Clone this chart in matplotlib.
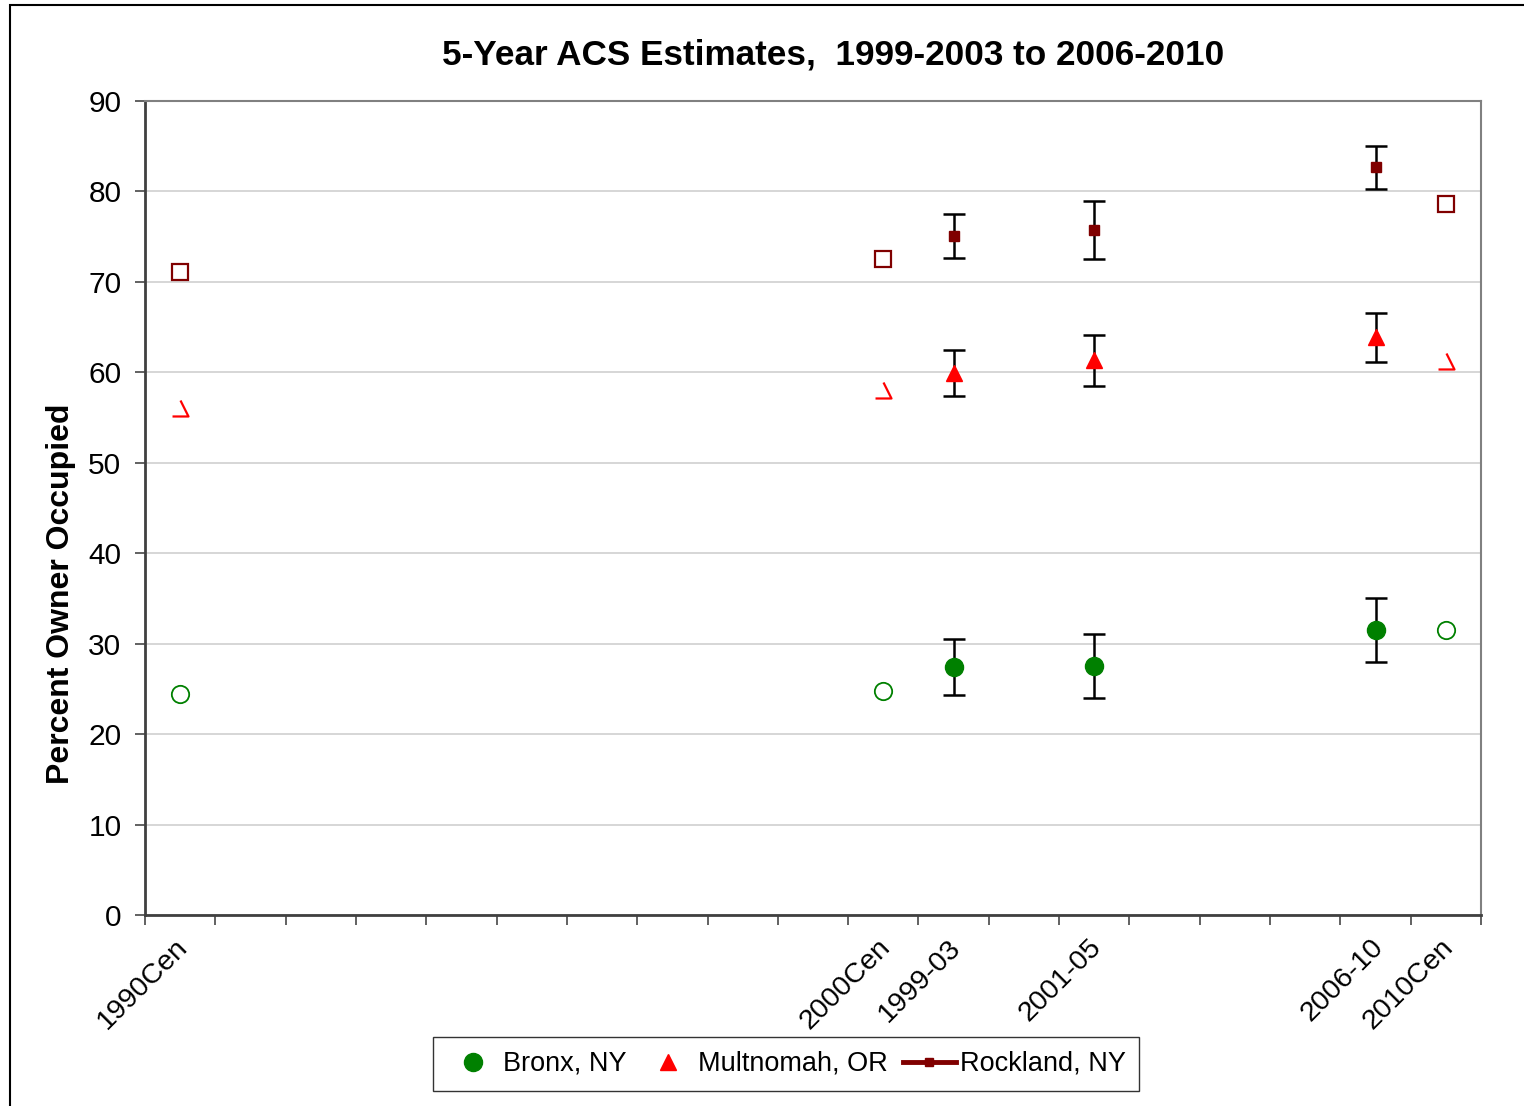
import matplotlib.pyplot as plt
from matplotlib.lines import Line2D
from matplotlib.path import Path
from matplotlib.patches import Rectangle

plt.rcParams['font.family'] = ['Liberation Sans', 'DejaVu Sans']

# 19 category slots along the x axis, only some are labelled
n_slots = 19
slot_labels = {0: '1990Cen', 10: '2000Cen', 11: '1999-03', 13: '2001-05',
               17: '2006-10', 18: '2010Cen'}

census_slots = [0, 10, 18]
acs_slots = [11, 13, 17]

bronx_census = [24.4, 24.8, 31.5]
bronx_acs = [27.4, 27.5, 31.5]
bronx_lo = [24.3, 24.0, 28.0]
bronx_hi = [30.5, 31.1, 35.1]

mult_census = [56.1, 58.0, 61.3]
mult_acs = [59.9, 61.4, 63.9]
mult_lo = [57.4, 58.5, 61.1]
mult_hi = [62.5, 64.1, 66.6]

rock_census = [71.1, 72.5, 78.6]
rock_acs = [75.1, 75.7, 82.7]
rock_lo = [72.6, 72.5, 80.3]
rock_hi = [77.5, 78.9, 85.0]

green = '#008000'
red = '#FF0000'
maroon = '#800000'

fig = plt.figure(figsize=(15.24, 11.06), dpi=100)
ax = fig.add_axes([145 / 1524, 1 - 915 / 1106, (1481 - 145) / 1524, (915 - 101) / 1106])

# outer chart border
fig.patches.append(Rectangle((10 / 1524, -0.1), 1.2, 1 - 5 / 1106 + 0.1,
                             transform=fig.transFigure, fill=False,
                             edgecolor='black', linewidth=1.5))

xc = [s + 0.5 for s in census_slots]
xa = [s + 0.5 for s in acs_slots]

# open triangle as drawn by the source chart (left edge missing)
tri = Path([(0, 1), (1, -1), (-1, -1)], [Path.MOVETO, Path.LINETO, Path.LINETO])

ax.plot(xc, bronx_census, linestyle='none', marker='o', ms=12.5,
        mfc='white', mec=green, mew=1.3, zorder=3)
ax.plot(xc, mult_census, linestyle='none', marker=tri, ms=11.5,
        mfc='none', mec=red, mew=1.6, zorder=3)
ax.plot(xc, rock_census, linestyle='none', marker='s', ms=11,
        mfc='white', mec=maroon, mew=1.6, zorder=3)

def err(vals, lo, hi):
    return [[v - l for v, l in zip(vals, lo)], [h - v for v, h in zip(vals, hi)]]

for vals, lo, hi, mk, ms, col in [
        (bronx_acs, bronx_lo, bronx_hi, 'o', 13, green),
        (mult_acs, mult_lo, mult_hi, '^', 12, red),
        (rock_acs, rock_lo, rock_hi, 's', 6.5, maroon)]:
    ax.errorbar(xa, vals, yerr=err(vals, lo, hi), fmt='none', ecolor='black',
                elinewidth=1.8, capsize=8, capthick=1.8, zorder=3)
    ax.plot(xa, vals, linestyle='none', marker=mk, ms=ms, mfc=col, mec=col, zorder=4)

ax.set_xlim(0, n_slots)
ax.set_ylim(0, 90)
ax.set_yticks(range(0, 91, 10))
ax.yaxis.grid(True, color='#d0d0d0', linewidth=1.2)
ax.set_axisbelow(True)

# boundary ticks carry the marks, slot centres carry the text
ax.set_xticks(range(n_slots + 1))
ax.set_xticklabels([])
ax.set_xticks([s + 0.42 for s in slot_labels], minor=True)
ax.set_xticklabels(list(slot_labels.values()), minor=True, rotation=45,
                   ha='right', rotation_mode='anchor', fontsize=20.5)
ax.tick_params(axis='x', which='minor', length=0, pad=14)
ax.tick_params(axis='x', which='major', length=7, width=1.3, color='#555555')
ax.tick_params(axis='y', length=7, width=1.3, color='#555555', labelsize=21.5, pad=10)

for side in ['top', 'right']:
    ax.spines[side].set_color('#808080')
    ax.spines[side].set_linewidth(1.5)
for side in ['left', 'bottom']:
    ax.spines[side].set_color('#404040')
    ax.spines[side].set_linewidth(2)

ax.set_ylabel('Percent Owner Occupied', fontsize=23, fontweight='bold')
ax.yaxis.set_label_coords((76 - 145) / 1336, (915 - 594) / 814)
fig.text(833 / 1524, 1 - 55 / 1106, '5-Year ACS Estimates,  1999-2003 to 2006-2010',
         ha='center', va='center', fontsize=25.3, fontweight='bold')

handles = [
    Line2D([], [], linestyle='none', marker='o', ms=13, color=green),
    Line2D([], [], linestyle='none', marker='^', ms=11, color=red),
    Line2D([], [], color=maroon, linewidth=3.5, marker='s', ms=6),
]
fig.legend(handles, ['Bronx, NY', 'Multnomah, OR', 'Rockland, NY'],
           loc='center', bbox_to_anchor=(786 / 1524, 1 - 1064 / 1106), ncol=3,
           fontsize=19.5, frameon=True, fancybox=False, edgecolor='black',
           handlelength=1.95, handletextpad=0.15, columnspacing=0.55,
           borderpad=0.5)

fig.savefig('out.png', dpi=100)
